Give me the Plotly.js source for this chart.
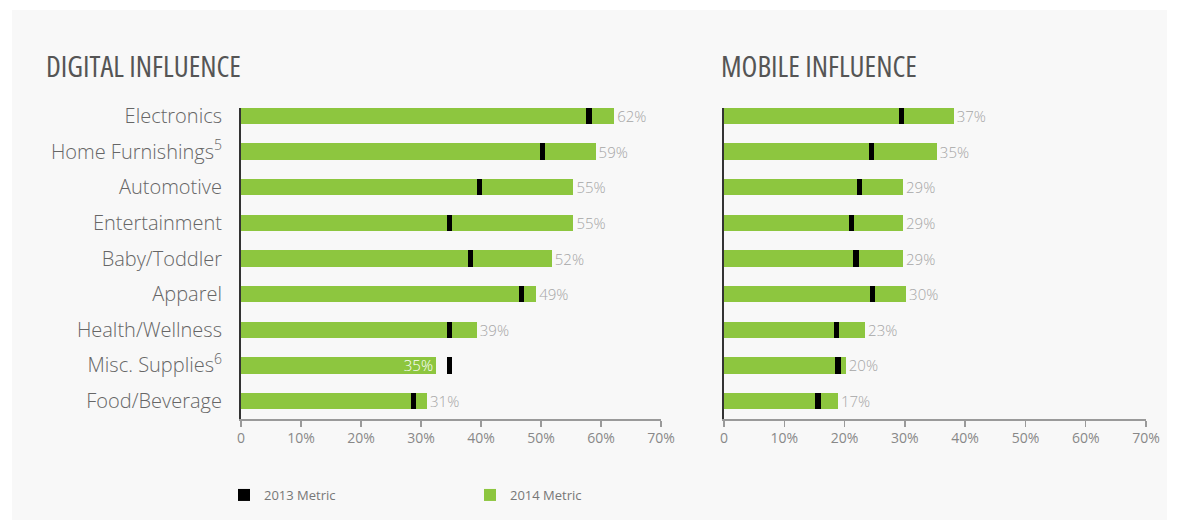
<!DOCTYPE html>
<html>
<head>
<meta charset="utf-8">
<script src="https://cdn.plot.ly/plotly-3.0.1.min.js"></script>
<style>
html,body{margin:0;padding:0;background:#ffffff;}
#chart{width:1179px;height:530px;}
#chart svg text.annotation-text{font-stretch:62.5%;}
</style>
</head>
<body>
<div id="chart"></div>
<script>
// ---- data ----
const categories = ["Electronics","Home Furnishings<sup>5</sup>","Automotive","Entertainment","Baby/Toddler","Apparel","Health/Wellness","Misc. Supplies<sup>6</sup>","Food/Beverage"];
const digital2014 = [62.2, 59.1, 55.4, 55.4, 51.8, 49.2, 39.3, 32.5, 31.0];
const digital2013 = [58.0, 50.3, 39.8, 34.8, 38.3, 46.8, 34.7, 34.8, 28.7];
const digitalLabels = ["62%","59%","55%","55%","52%","49%","39%","35%","31%"];
const mobile2014 = [38.1, 35.3, 29.7, 29.7, 29.7, 30.2, 23.4, 20.2, 18.9];
const mobile2013 = [29.5, 24.4, 22.5, 21.2, 21.9, 24.7, 18.7, 18.9, 15.6];
const mobileLabels = ["37%","35%","29%","29%","29%","30%","23%","20%","17%"];
const tickValues = [0,10,20,30,40,50,60,70];
const tickLabels = ["0","10%","20%","30%","40%","50%","60%","70%"];
const panelTitles = ["DIGITAL INFLUENCE","MOBILE INFLUENCE"];
const seriesNames = ["2013 Metric","2014 Metric"];

// ---- style ----
const GREEN = "#8dc63f";
const BLACK = "#000000";
const MARK_W = 0.85; // width of 2013 marker in value units
const W = 1179, H = 530;
const BAR_T = 0.46;
const INSIDE_IDX = 7; // digital label drawn inside its bar

const digitalPos = digitalLabels.map((l,i) => i === INSIDE_IDX ? "inside" : "outside");
const digitalTxtCol = digitalLabels.map((l,i) => i === INSIDE_IDX ? "#ffffff" : "#a6a6a6");

const traces = [
  {type:"bar", orientation:"h", y:categories, x:digital2014, xaxis:"x", yaxis:"y",
   marker:{color:GREEN}, width:BAR_T, name:seriesNames[1], legendrank:2,
   text:digitalLabels, textposition:digitalPos, insidetextanchor:"end",
   textfont:{family:"Open Sans", size:15, weight:300, color:digitalTxtCol},
   constraintext:"none", cliponaxis:false, hoverinfo:"skip"},
  {type:"bar", orientation:"h", y:categories, x:digital2013.map(()=>MARK_W),
   base:digital2013.map(v=>v-MARK_W/2), xaxis:"x", yaxis:"y",
   marker:{color:BLACK}, width:BAR_T, name:seriesNames[0], legendrank:1, hoverinfo:"skip"},
  {type:"bar", orientation:"h", y:categories, x:mobile2014, xaxis:"x2", yaxis:"y2",
   marker:{color:GREEN}, width:BAR_T, name:seriesNames[1], showlegend:false,
   text:mobileLabels, textposition:"outside",
   textfont:{family:"Open Sans", size:15, weight:300, color:"#a6a6a6"},
   constraintext:"none", cliponaxis:false, hoverinfo:"skip"},
  {type:"bar", orientation:"h", y:categories, x:mobile2013.map(()=>MARK_W),
   base:mobile2013.map(v=>v-MARK_W/2), xaxis:"x2", yaxis:"y2",
   marker:{color:BLACK}, width:BAR_T, name:seriesNames[0], showlegend:false, hoverinfo:"skip"}
];

const xCommon = {range:[0,70], tickmode:"array", tickvals:tickValues, ticktext:tickLabels,
  showgrid:false, zeroline:false, showline:true, linecolor:"#9a9a9a", linewidth:1.5,
  ticks:"outside", ticklen:6, tickcolor:"#9a9a9a", tickwidth:1.5,
  tickfont:{family:"Open Sans", size:14, color:"#888888"}, fixedrange:true};
const yCommon = {type:"category", categoryorder:"array", categoryarray:categories,
  range:[8.505,-0.225], showgrid:false, zeroline:false, showline:true,
  linecolor:"#333333", linewidth:2, ticks:"", fixedrange:true,
  domain:[1-419/H, 1-108/H]};

const titleFont = {family:"Open Sans", size:29, weight:500, color:"#555555"};

const layout = {
  width:W, height:H,
  margin:{l:0,r:0,t:0,b:0},
  paper_bgcolor:"#ffffff", plot_bgcolor:"rgba(0,0,0,0)",
  barmode:"overlay", bargap:0,
  showlegend:true,
  legend:{orientation:"h", x:224/W, xanchor:"left", y:1-495/H, yanchor:"middle",
    entrywidth:201, entrywidthmode:"pixels", bgcolor:"rgba(0,0,0,0)",
    font:{family:"Open Sans", size:13, color:"#777777"}},
  xaxis: Object.assign({}, xCommon, {domain:[241/W, 661/W], anchor:"y"}),
  xaxis2: Object.assign({}, xCommon, {domain:[724/W, 1146/W], anchor:"y2"}),
  yaxis: Object.assign({}, yCommon, {anchor:"x", showticklabels:true, ticklabelstandoff:13,
    tickfont:{family:"Open Sans", size:20, weight:300, color:"#666666"}}),
  yaxis2: Object.assign({}, yCommon, {anchor:"x2", showticklabels:false}),
  shapes:[{type:"rect", xref:"paper", yref:"paper", x0:12/W, x1:1167/W, y0:1-520/H, y1:1-10/H,
    fillcolor:"#f8f8f8", line:{width:0}, layer:"below"}],
  annotations:[
    {text:panelTitles[0], xref:"paper", yref:"paper", x:44/W, y:1-66/H, xanchor:"left", yanchor:"middle",
     align:"left", showarrow:false, font:titleFont},
    {text:panelTitles[1], xref:"paper", yref:"paper", x:719/W, y:1-66/H, xanchor:"left", yanchor:"middle",
     align:"left", showarrow:false, font:titleFont}
  ]
};

Plotly.newPlot("chart", traces, layout, {displayModeBar:false, staticPlot:true});
</script>
</body>
</html>
